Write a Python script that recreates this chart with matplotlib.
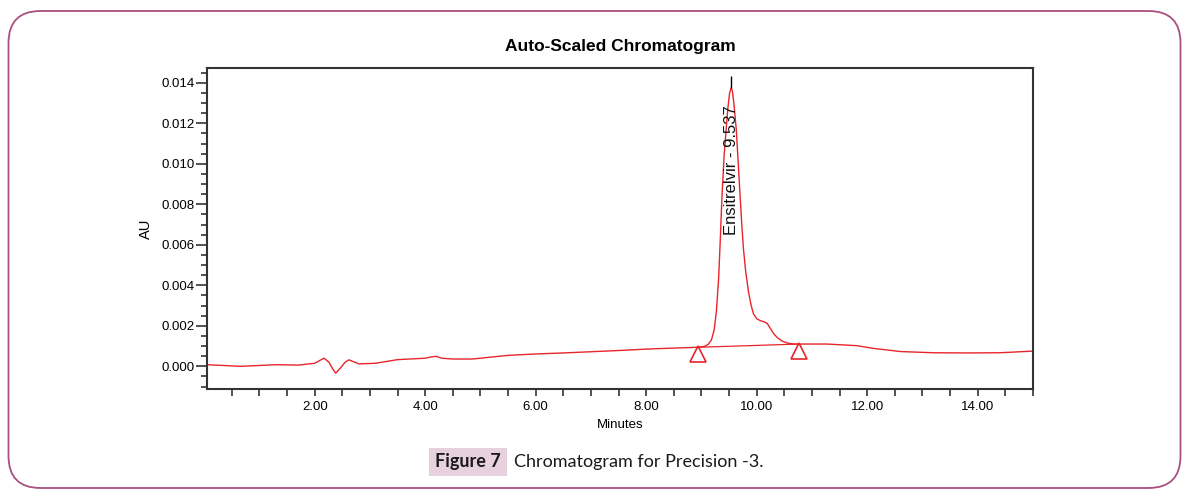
import numpy as np
import matplotlib
matplotlib.use("Agg")
import matplotlib.pyplot as plt
import matplotlib.transforms as mtransforms
from matplotlib.patches import FancyBboxPatch
from matplotlib.ticker import MultipleLocator, FormatStrFormatter

plt.rcParams['font.family'] = ['Liberation Sans', 'DejaVu Sans']

# trace (minutes, AU)
minutes = [0.05, 0.67, 1.3, 1.7, 2.0, 2.1, 2.17, 2.26, 2.32, 2.38, 2.46, 2.55, 2.62,
           2.8, 3.1, 3.5, 4.0, 4.12, 4.2, 4.3, 4.5, 4.85, 5.5, 6.0, 6.5, 7.0, 7.5,
           8.08, 8.5, 8.92, 9.05, 9.12, 9.18, 9.23, 9.27, 9.31, 9.34, 9.37, 9.41,
           9.45, 9.48, 9.51, 9.537, 9.56, 9.59, 9.63, 9.66, 9.70, 9.73, 9.76, 9.80,
           9.85, 9.90, 9.94, 10.0, 10.07, 10.13, 10.19, 10.24, 10.31, 10.38, 10.46,
           10.55, 10.67, 10.79, 11.27, 11.81, 12.1, 12.6, 13.2, 13.8, 14.4, 15.0]
au = [0.00008, 0.0, 0.00008, 0.00006, 0.00015, 0.0003, 0.0004, 0.0002, -0.0001,
      -0.00034, -0.0001, 0.0002, 0.00032, 0.00012, 0.00015, 0.00033, 0.0004,
      0.00047, 0.00049, 0.0004, 0.00036, 0.00036, 0.00054, 0.00061, 0.00066,
      0.00072, 0.00078, 0.00086, 0.0009, 0.00094, 0.00098, 0.00108, 0.0013,
      0.0018, 0.0027, 0.0043, 0.0062, 0.0083, 0.0104, 0.0118, 0.0128, 0.0135,
      0.01375, 0.0136, 0.0129, 0.0117, 0.0103, 0.0084, 0.0070, 0.0058, 0.0047,
      0.0037, 0.0030, 0.0026, 0.00235, 0.00225, 0.0022, 0.00212, 0.0019,
      0.0016, 0.0014, 0.00125, 0.00115, 0.0011, 0.0011, 0.0011, 0.00102,
      0.00089, 0.00073, 0.00067, 0.00066, 0.00067, 0.00075]

# integration baseline (peak start / end)
base_t = [8.94, 10.77]
base_au = [0.00094, 0.0011]

peak_name = "Ensitrelvir"
peak_rt = 9.537
peak_top = 0.01375
red = '#e8252b'

fig = plt.figure(figsize=(11.88, 5.0), dpi=100)

# outer frame and caption, drawn in pixel units
bg = fig.add_axes([0, 0, 1, 1])
bg.set_xlim(0, 1188)
bg.set_ylim(500, 0)
bg.axis('off')
bg.add_patch(FancyBboxPatch((8.5, 11), 1172, 477,
                            boxstyle="round,pad=0,rounding_size=32",
                            fc='none', ec='#a8507f', lw=1.3))
bg.add_patch(plt.Rectangle((429, 448), 78, 28, fc='#e8d1de', ec='none'))
bg.text(468, 462, "Figure 7", fontsize=13, fontweight='bold', family='Lato',
        color='#1a1a1a', va='center', ha='center')
bg.text(514, 462, "Chromatogram for Precision -3.", fontsize=13, family='Lato',
        color='#1a1a1a', va='center', ha='left')

ax = fig.add_axes([0.1742, 0.222, 0.6953, 0.642])
ax.plot(minutes, au, color=red, lw=1.0)
ax.plot(base_t, base_au, color=red, lw=0.9)

# open triangles hanging under the baseline ends
shift = mtransforms.offset_copy(ax.transData, fig=fig, x=0, y=-7, units='dots')
ax.plot(base_t, base_au, ls='none', marker='^', ms=11, mfc='white',
        mec=red, mew=1.2, transform=shift)

ax.vlines(peak_rt, peak_top, 0.01432, color='black', lw=1.0)
ax.text(peak_rt, 0.0129, f"{peak_name} - {peak_rt:.3f}", rotation=90,
        ha='center', va='top', fontsize=12, color='#111111')

ax.set_xlim(0.05, 15.0)
ax.set_ylim(-0.00112, 0.01473)
ax.xaxis.set_major_locator(MultipleLocator(2))
ax.xaxis.set_minor_locator(MultipleLocator(0.5))
ax.yaxis.set_major_locator(MultipleLocator(0.002))
ax.yaxis.set_minor_locator(MultipleLocator(0.0005))
ax.xaxis.set_major_formatter(FormatStrFormatter('%.2f'))
ax.yaxis.set_major_formatter(FormatStrFormatter('%.3f'))

ax.tick_params(axis='x', which='both', length=5, width=1.2, color='#333333',
               labelsize=9.5, pad=4)
ax.tick_params(axis='y', which='major', length=8, width=1.2, color='#333333',
               labelsize=9.5, pad=1)
ax.tick_params(axis='y', which='minor', length=4, width=1.2, color='#333333')
for s in ax.spines.values():
    s.set_color('#333333')
    s.set_linewidth(1.5)

ax.set_xlabel("Minutes", fontsize=9.5, labelpad=4)
ax.set_ylabel("AU", fontsize=10.5, labelpad=6)
ax.set_title("Auto-Scaled Chromatogram", fontsize=12.5, fontweight='bold', pad=12)

fig.savefig("out.png", dpi=100)
